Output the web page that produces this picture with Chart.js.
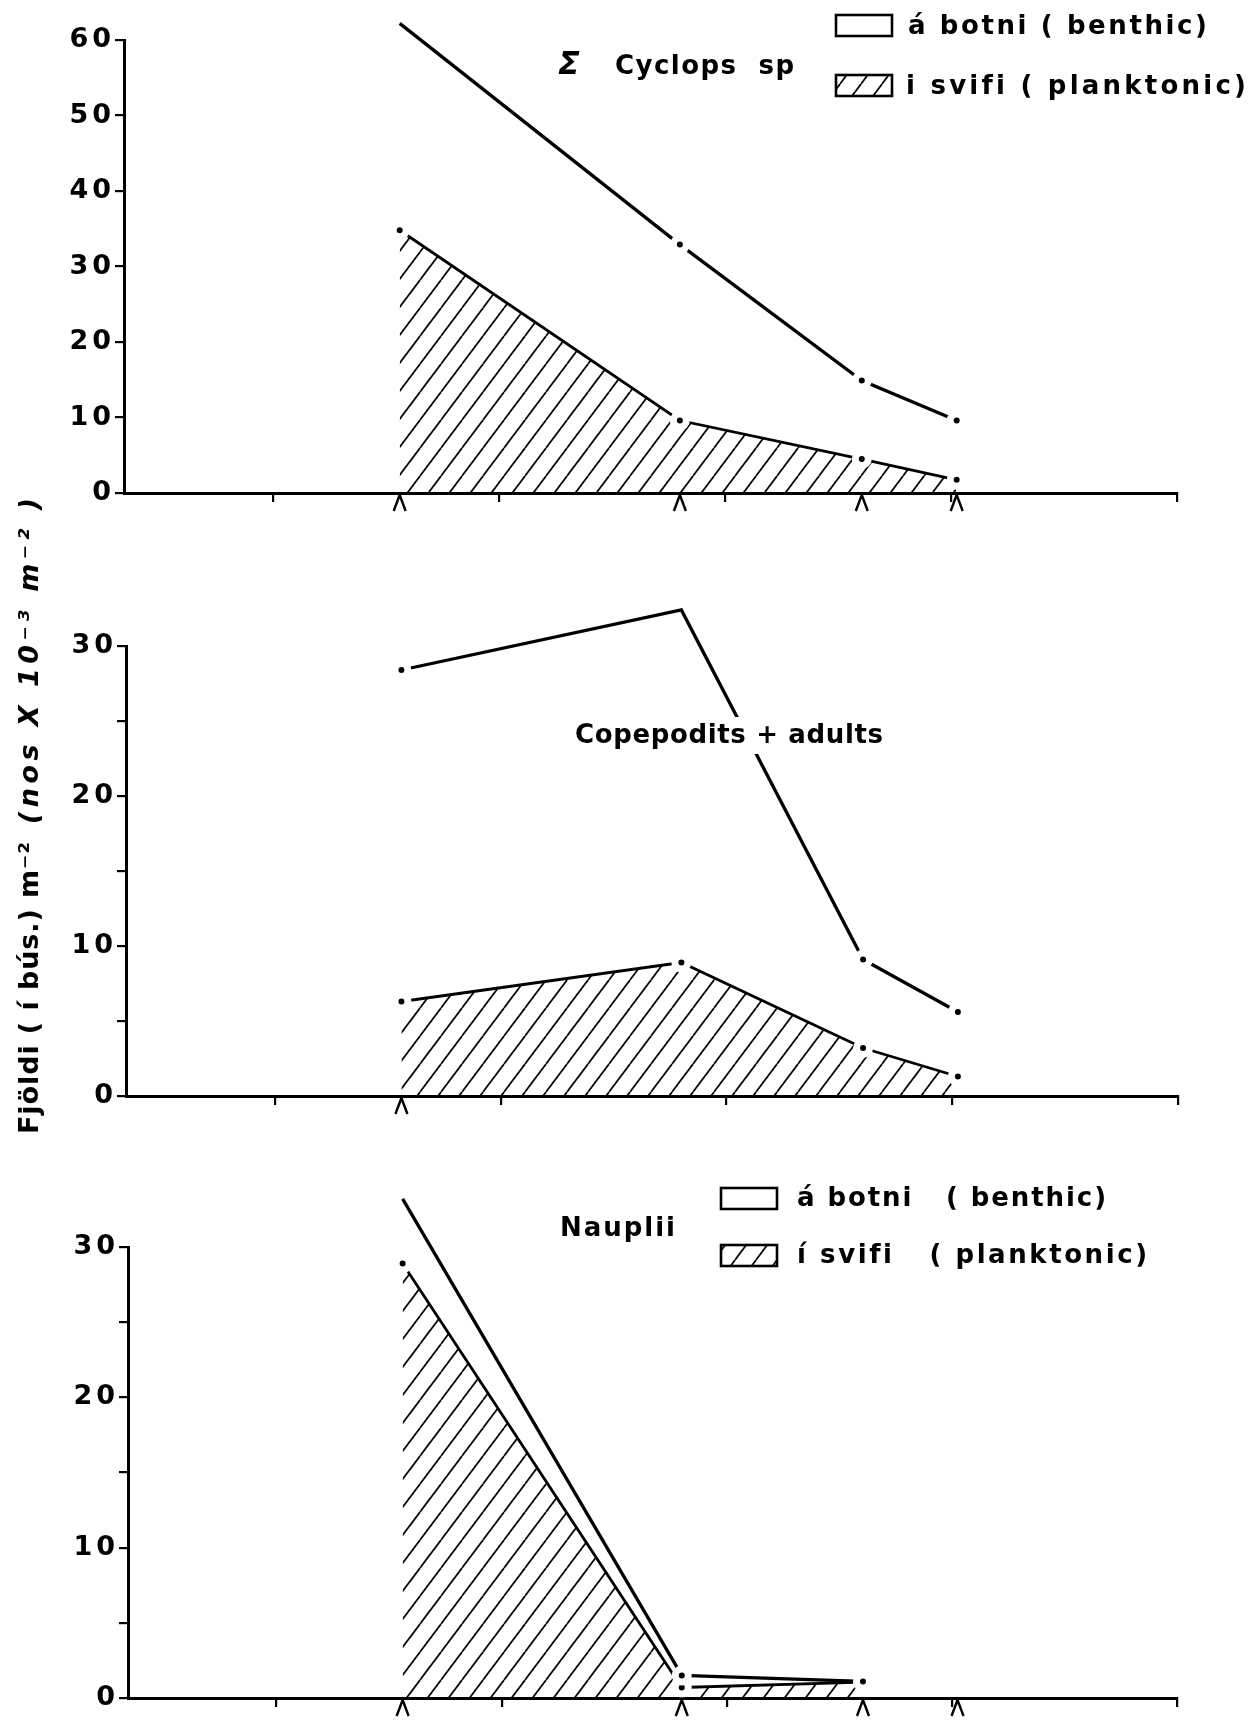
<!DOCTYPE html>
<html><head><meta charset="utf-8">
<script src="https://cdn.jsdelivr.net/npm/chart.js@4.4.1/dist/chart.umd.min.js"></script>
<style>
html,body{margin:0;padding:0;background:#fff;}
#wrap{position:relative;width:1254px;height:1721px;overflow:hidden;background:#fff;}
canvas{position:absolute;left:0;top:0;}
</style></head><body><div id="wrap">
<canvas id="c1" width="1254" height="1721"></canvas>
<canvas id="c2" width="1254" height="1721"></canvas>
<canvas id="c3" width="1254" height="1721"></canvas>
</div>
<script>
// ---- data ----
// sampling dates, as positions along the time axis (tick = 1 unit)
const sampleX = [1.56, 2.80, 3.605, 4.025];
const xTicks = [1, 2, 3, 4, 5];
const xMin = 0.34, xMax = 5;

// Σ Cyclops sp (nos x 10^-3 m^-2): total (benthic + planktonic) and planktonic
const cyclopsTotal    = [62.2, 32.9, 14.9, 9.6];
const cyclopsPlankton = [34.8, 9.6, 4.5, 1.75];
// Copepodits + adults
const copTotal    = [28.4, 32.4, 9.1, 5.6];
const copPlankton = [6.3, 8.9, 3.2, 1.3];
// Nauplii
const naupTotal    = [33.2, 1.5, 1.1, null];
const naupPlankton = [28.9, 0.7, 1.05, null];

const yTicks1 = [0, 10, 20, 30, 40, 50, 60];
const yTicks2 = [0, 5, 10, 15, 20, 25, 30];
const yTicks3 = [0, 5, 10, 15, 20, 25, 30];

const legBenthic1 = 'á botni ( benthic)';
const legPlankton1 = 'i svifi ( planktonic)';
const legBenthic3 = 'á botni   ( benthic)';
const legPlankton3 = 'í svifi   ( planktonic)';
const title1a = 'Σ', title1b = 'Cyclops  sp';
const title2 = 'Copepodits + adults';
const title3 = 'Nauplii';
const yTitleA = 'Fjöldi ( í bús.) m⁻²';
const yTitleB = '(nos X 10⁻³ m⁻² )';

// ---- helpers ----
const W = 1254, H = 1721;
const FONT = '"DejaVu Sans", "Liberation Sans", sans-serif';

function makeHatch() {
  const c = document.createElement('canvas');
  const w = 21, h = 28;
  c.width = w; c.height = h;
  const g = c.getContext('2d');
  g.strokeStyle = '#000';
  g.lineWidth = 1.7;
  for (const x0 of [-w, 0, w]) {
    g.beginPath();
    g.moveTo(x0, h);
    g.lineTo(x0 + w, 0);
    g.stroke();
  }
  return g.createPattern(c, 'repeat');
}

function fitText(ctx, text, x1, x2, y, font) {
  ctx.font = font;
  ctx.letterSpacing = '0px';
  const n = Array.from(text).length;
  const w = ctx.measureText(text).width;
  let sp = n > 1 ? (x2 - x1 - w) / (n - 1) : 0;
  if (sp < -2) sp = -2;
  ctx.letterSpacing = sp.toFixed(2) + 'px';
  ctx.textAlign = 'left';
  ctx.textBaseline = 'middle';
  ctx.fillStyle = '#000';
  ctx.fillText(text, x1, y);
  ctx.letterSpacing = '0px';
}

function legendBox(ctx, x, y, w, h, hatched, hatch) {
  ctx.save();
  if (hatched) { ctx.fillStyle = hatch; ctx.fillRect(x, y, w, h); }
  ctx.lineWidth = 2.6;
  ctx.strokeStyle = '#000';
  ctx.strokeRect(x, y, w, h);
  ctx.restore();
}

function makePanel(canvasId, total, plankton, yTicks, yMax, area, caretIdx, deco) {
  const ctx = document.getElementById(canvasId).getContext('2d');
  const hatch = makeHatch();
  const yW = 70, xH = 20;
  const pts = arr => sampleX.map((x, i) => ({x: x, y: arr[i]}));
  const common = {
    borderColor: '#000', fill: false, tension: 0, clip: false,
    pointRadius: 6.5, pointBorderWidth: 7, pointBackgroundColor: '#000', pointBorderColor: '#fff',
    pointHoverRadius: 6.5, spanGaps: false
  };
  return new Chart(ctx, {
    type: 'line',
    data: {
      datasets: [
        Object.assign({}, common, {label: 'total', data: pts(total), borderWidth: 3.3}),
        Object.assign({}, common, {label: 'plankton', data: pts(plankton), borderWidth: 2.8,
          fill: 'origin', backgroundColor: hatch})
      ]
    },
    options: {
      responsive: false, animation: false, devicePixelRatio: 1,
      events: [],
      layout: {padding: {left: area.left - yW, top: area.top, right: W - area.right, bottom: H - area.bottom - xH}},
      plugins: {legend: {display: false}, tooltip: {enabled: false}, title: {display: false},
        filler: {propagate: false}},
      scales: {
        x: {
          type: 'linear', min: xMin, max: xMax, z: 1,
          afterBuildTicks: s => { s.ticks = xTicks.map(v => ({value: v})); },
          afterFit: s => { s.height = xH; },
          ticks: {display: false},
          grid: {drawOnChartArea: false, drawTicks: true, tickLength: 9, color: '#000', lineWidth: 2.2},
          border: {display: true, color: '#000', width: 3}
        },
        y: {
          type: 'linear', min: 0, max: yMax, z: 1,
          afterBuildTicks: s => { s.ticks = yTicks.map(v => ({value: v})); },
          afterFit: s => { s.width = yW; },
          ticks: {autoSkip: false, padding: 0, color: '#000',
            font: {family: FONT, size: 27, weight: 'bold'},
            callback: v => (v % 10 === 0 ? String(v) : '')},
          grid: {drawOnChartArea: false, drawTicks: true, tickLength: 9, color: '#000', lineWidth: 2.2},
          border: {display: true, color: '#000', width: 3}
        }
      }
    },
    plugins: [{
      id: 'deco',
      beforeDraw(chart) { chart.ctx.letterSpacing = '4px'; },
      afterDatasetsDraw(chart) {
        if (deco.before) deco.before(chart.ctx, hatch);
      },
      afterDraw(chart) {
        const c = chart.ctx;
        c.save();
        c.letterSpacing = '0px';
        // sampling-date carets under the x axis
        const xs = chart.scales.x, yb = chart.chartArea.bottom;
        c.strokeStyle = '#000'; c.lineWidth = 2.4;
        caretIdx.forEach(i => {
          const px = xs.getPixelForValue(sampleX[i]);
          c.beginPath();
          c.moveTo(px - 6, yb + 18); c.lineTo(px, yb + 2); c.lineTo(px + 6, yb + 18);
          c.stroke();
        });
        deco.after(c, hatch);
        c.restore();
      }
    }]
  });
}

const TXT = 'bold 26px ' + FONT;

makePanel('c1', cyclopsTotal, cyclopsPlankton, yTicks1, 60,
  {left: 124, top: 40, right: 1177, bottom: 493}, [0, 1, 2, 3], {
  after(c, hatch) {
    fitText(c, title1a, 558, 590, 66, 'bold italic 32px ' + FONT);
    fitText(c, title1b, 615, 794, 67, TXT);
    legendBox(c, 836, 15, 56, 21, false, hatch);
    fitText(c, legBenthic1, 908, 1207, 27, TXT);
    legendBox(c, 836, 75, 56, 21, true, hatch);
    fitText(c, legPlankton1, 906, 1245, 87, TXT);
  }
});

makePanel('c2', copTotal, copPlankton, yTicks2, 30,
  {left: 126, top: 646, right: 1178, bottom: 1096}, [0], {
  before(c) {
    c.save(); c.fillStyle = '#fff'; c.fillRect(570, 717, 320, 37); c.restore();
  },
  after(c) {
    fitText(c, title2, 575, 883, 736, TXT);
    // shared y-axis title
    c.save();
    c.translate(31, 1134);
    c.rotate(-Math.PI / 2);
    fitText(c, yTitleA, 0, 292, 0, 'bold 27px ' + FONT);
    fitText(c, yTitleB, 310, 636, 0, 'bold italic 27px ' + FONT);
    c.restore();
  }
});

makePanel('c3', naupTotal, naupPlankton, yTicks3, 30,
  {left: 128, top: 1247, right: 1177, bottom: 1698}, [0, 1, 2, 3], {
  after(c, hatch) {
    fitText(c, title3, 560, 675, 1229, TXT);
    legendBox(c, 721, 1188, 56, 21, false, hatch);
    fitText(c, legBenthic3, 797, 1106, 1199, TXT);
    legendBox(c, 721, 1245, 56, 21, true, hatch);
    fitText(c, legPlankton3, 797, 1146, 1256, TXT);
  }
});
</script>
</body></html>
